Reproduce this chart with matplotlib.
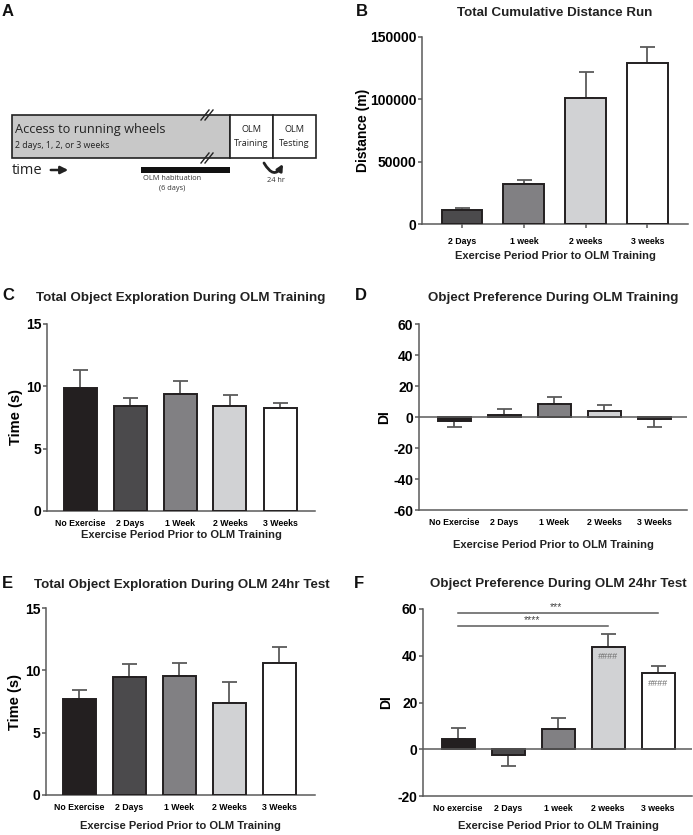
import matplotlib
matplotlib.use("Agg")
import matplotlib.pyplot as plt
from matplotlib.patches import Rectangle, FancyArrowPatch
from matplotlib.path import Path

plt.rcParams['font.family'] = ['Liberation Sans', 'DejaVu Sans']

W, H = 693, 835
DPI = 100

# ---------------- data ----------------
b_labels = ["2 Days", "1 week", "2 weeks", "3 weeks"]
b_means = [11000, 32000, 101000, 129000]
b_err = [1500, 3000, 21000, 13000]

c_labels = ["No Exercise", "2 Days", "1 Week", "2 Weeks", "3 Weeks"]
c_means = [9.9, 8.45, 9.4, 8.4, 8.3]
c_err = [1.4, 0.65, 1.0, 0.9, 0.4]

d_labels = ["No Exercise", "2 Days", "1 Week", "2 Weeks", "3 Weeks"]
d_means = [-2.6, 1.5, 8.6, 3.9, -1.5]
d_err = [3.9, 3.7, 4.4, 3.8, 4.8]

e_labels = ["No Exercise", "2 Days", "1 Week", "2 Weeks", "3 Weeks"]
e_means = [7.7, 9.5, 9.55, 7.4, 10.6]
e_err = [0.7, 1.0, 1.0, 1.65, 1.25]

f_labels = ["No exercise", "2 Days", "1 week", "2 weeks", "3 weeks"]
f_means = [4.2, -2.5, 8.8, 43.8, 32.5]
f_err = [4.8, 4.5, 4.4, 5.4, 3.3]

colors5 = ['#231f20', '#4b4a4c', '#818083', '#d1d2d4', '#ffffff']
colors4 = colors5[1:]

EDGE = '#231f20'
SPINE = '#5a5a5a'
ERRC = '#5a5a5a'

fig = plt.figure(figsize=(W / DPI, H / DPI), dpi=DPI)


def ax_px(l, t, r, b):
    return fig.add_axes([l / W, 1 - b / H, (r - l) / W, (b - t) / H])


def ftext(x, y, s, **kw):
    fig.text(x / W, 1 - y / H, s, **kw)


def bar_panel(ax, labels, means, errs, colors, ylim, yticks, xlim, zero_line=False,
              xticks_marks=False):
    x = list(range(len(means)))
    lo = [e if m < 0 else 0 for m, e in zip(means, errs)]
    hi = [e if m >= 0 else 0 for m, e in zip(means, errs)]
    ax.errorbar(x, means, yerr=[lo, hi], fmt='none', ecolor=ERRC, elinewidth=1.3,
                capsize=5.4, capthick=1.3, zorder=2)
    ax.bar(x, means, width=0.66, color=colors, edgecolor=EDGE, linewidth=1.4, zorder=3)
    ax.set_xlim(*xlim)
    ax.set_ylim(*ylim)
    ax.set_yticks(yticks)
    ax.set_yticklabels([str(v) for v in yticks], fontsize=10, fontweight='bold')
    ax.set_xticks(x)
    ax.set_xticklabels(labels, fontsize=6.3, fontweight='bold')
    for s in ['top', 'right']:
        ax.spines[s].set_visible(False)
    for s in ['left', 'bottom']:
        ax.spines[s].set_color(SPINE)
        ax.spines[s].set_linewidth(1.1)
    ax.tick_params(axis='y', length=3, width=1.1, color=SPINE, pad=1)
    ax.tick_params(axis='x', length=3 if xticks_marks else 0, width=1.1, color=SPINE,
                   pad=6)
    if zero_line:
        ax.axhline(0, color=SPINE, lw=1.1, zorder=4)
    ax.patch.set_alpha(0)


# ---------------- Panel A (diagram) ----------------
AF = ['Open Sans', 'DejaVu Sans']
axA = fig.add_axes([0, 1 - 230 / H, 340 / W, 230 / H])
axA.set_xlim(0, 340)
axA.set_ylim(230, 0)
axA.axis('off')
axA.add_patch(Rectangle((12, 115), 218, 43, facecolor='#c8c8c8', edgecolor='#222222', lw=1.2))
axA.add_patch(Rectangle((230, 115), 43, 43, facecolor='white', edgecolor='#222222', lw=1.2))
axA.add_patch(Rectangle((273, 115), 43, 43, facecolor='white', edgecolor='#222222', lw=1.2))
# break marks
for yb in (115, 158):
    for dx in (-2, 2):
        axA.plot([203 + dx, 211 + dx], [yb + 5, yb - 5], color='#222222', lw=1.0)
axA.text(15, 130, "Access to running wheels", fontsize=9.2, family=AF,
         va='center', ha='left', color='#222222')
axA.text(15, 146, "2 days, 1, 2, or 3 weeks", fontsize=6.4, family=AF,
         va='center', ha='left', color='#222222')
axA.text(251.5, 130, "OLM", fontsize=6.6, ha='center', va='center', color='#222222', family=AF)
axA.text(251.5, 143, "Training", fontsize=6.6, ha='center', va='center', color='#222222', family=AF)
axA.text(294.5, 130, "OLM", fontsize=6.6, ha='center', va='center', color='#222222', family=AF)
axA.text(294.5, 143, "Testing", fontsize=6.6, ha='center', va='center', color='#222222', family=AF)
axA.text(12, 171, "time", fontsize=10.5, ha='left', va='center', color='#222222', family=AF)
axA.annotate("", xy=(71, 170), xytext=(48, 170),
             arrowprops=dict(arrowstyle='-|>', color='#222222', lw=1.8, mutation_scale=11))
axA.add_patch(Rectangle((141, 167), 89, 6, facecolor='#111111', edgecolor='none'))
axA.text(172, 178.5, "OLM habituation", fontsize=5.3, ha='center', va='center', color='#333333',
         family=AF)
axA.text(172, 189, "(6 days)", fontsize=5.3, ha='center', va='center', color='#333333',
         family=AF)
upath = Path([(264, 163), (274, 180), (283, 164)], [Path.MOVETO, Path.CURVE3, Path.CURVE3])
arr = FancyArrowPatch(path=upath, arrowstyle='-|>', mutation_scale=9, color='#222222', lw=2.0)
axA.add_patch(arr)
axA.text(276, 180, "24 hr", fontsize=5.3, ha='center', va='center', color='#333333', family=AF)

# ---------------- Panel B ----------------
axB = ax_px(422, 37, 688, 224)
bar_panel(axB, b_labels, b_means, b_err, colors4, (0, 150000), [0, 50000, 100000, 150000],
          (-0.65, 3.66), xticks_marks=True)
axB.set_ylabel("Distance (m)", fontsize=10, fontweight='bold', labelpad=0)

# ---------------- Panel C ----------------
axC = ax_px(47, 324, 315, 511)
bar_panel(axC, c_labels, c_means, c_err, colors5, (0, 15), [0, 5, 10, 15], (-0.66, 4.7))
axC.set_ylabel("Time (s)", fontsize=10.5, fontweight='bold', labelpad=2)

# ---------------- Panel D ----------------
axD = ax_px(419, 324, 687, 510)
bar_panel(axD, d_labels, d_means, d_err, colors5, (-60, 60), [-60, -40, -20, 0, 20, 40, 60],
          (-0.7, 4.66), zero_line=True)
axD.set_ylabel("DI", fontsize=10, fontweight='bold', labelpad=2)

# ---------------- Panel E ----------------
axE = ax_px(46, 608, 315, 795)
bar_panel(axE, e_labels, e_means, e_err, colors5, (0, 15), [0, 5, 10, 15], (-0.66, 4.72))
axE.set_ylabel("Time (s)", fontsize=10.5, fontweight='bold', labelpad=2)

# ---------------- Panel F ----------------
axF = ax_px(423, 609, 692, 796)
bar_panel(axF, f_labels, f_means, f_err, colors5, (-20, 60), [-20, 0, 20, 40, 60],
          (-0.7, 4.68), zero_line=True)
axF.set_ylabel("DI", fontsize=10, fontweight='bold', labelpad=3)
axF.plot([0, 4], [58.3, 58.3], color=SPINE, lw=1.1)
axF.plot([0, 3], [52.7, 52.7], color=SPINE, lw=1.1)
axF.text(1.96, 58.8, "***", fontsize=7.5, ha='center', va='bottom', color='#444444')
axF.text(1.48, 53.2, "****", fontsize=7.5, ha='center', va='bottom', color='#444444')
axF.text(3, 39.5, "####", fontsize=6.5, ha='center', va='center', color='#6e6e6e', style='italic')
axF.text(4, 28.0, "####", fontsize=6.5, ha='center', va='center', color='#6e6e6e', style='italic')

# ---------------- titles & x labels ----------------
tkw = dict(fontsize=9.6, fontweight='bold', ha='center', va='center', color='#222222')
ftext(555, 13, "Total Cumulative Distance Run", **tkw)
ftext(181, 298, "Total Object Exploration During OLM Training", **tkw)
ftext(553, 298, "Object Preference During OLM Training", **tkw)
ftext(182, 585, "Total Object Exploration During OLM 24hr Test", **tkw)
ftext(558, 584, "Object Preference During OLM 24hr Test", **tkw)

xkw = dict(fontsize=8, fontweight='bold', ha='center', va='center', color='#222222')
ftext(555, 256, "Exercise Period Prior to OLM Training", **xkw)
ftext(181, 535, "Exercise Period Prior to OLM Training", **xkw)
ftext(553, 545, "Exercise Period Prior to OLM Training", **xkw)
ftext(180, 826, "Exercise Period Prior to OLM Training", **xkw)
ftext(558, 826, "Exercise Period Prior to OLM Training", **xkw)

lkw = dict(fontsize=12, fontweight='bold', ha='left', va='center', color='#111111')
ftext(2, 11, "A", **lkw)
ftext(356, 11, "B", **lkw)
ftext(2, 296, "C", **lkw)
ftext(355, 296, "D", **lkw)
ftext(2, 584, "E", **lkw)
ftext(354, 584, "F", **lkw)

fig.savefig("out.png", dpi=DPI)
